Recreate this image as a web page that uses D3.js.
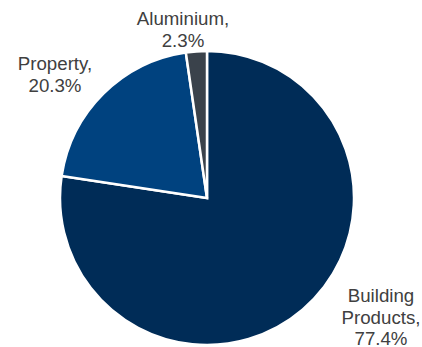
<!DOCTYPE html>
<html>
<head>
<meta charset="utf-8">
<script src="https://cdn.jsdelivr.net/npm/d3@7"></script>
<style>
  body { margin: 0; background: #fff; }
  svg { display: block; }
  text { font-family: "Liberation Sans", Arial, sans-serif; font-size: 18.7px; fill: #404040; }
</style>
</head>
<body>
<svg id="chart" width="422" height="347"></svg>
<script>
const categories = ["Building Products", "Property", "Aluminium"];
const values = [77.4, 20.3, 2.3];
const colors = ["#002c57", "#00427f", "#3a424b"];

const width = 422, height = 347;
const cx = 207, cy = 198, radius = 147;

// label position relative to pie centre: [x of centre line, first baseline]
const labelPos = [[174, 104], [-152, -128], [-24, -173]];
const labelLines = [["Building", "Products,"], ["Property,"], ["Aluminium,"]];
const lineHeight = 21.5;

const svg = d3.select("#chart");
const g = svg.append("g").attr("transform", `translate(${cx},${cy})`);

const pie = d3.pie().sort(null).value(d => d);
const arcs = pie(values);
const arc = d3.arc().innerRadius(0).outerRadius(radius);

g.selectAll("path")
  .data(arcs)
  .enter()
  .append("path")
  .attr("d", arc)
  .style("fill", (d, i) => colors[i])
  .style("stroke", "#fff")
  .style("stroke-width", 2.5)
  .style("stroke-linejoin", "miter");

arcs.forEach(function(d, i) {
  const lines = labelLines[i].concat([values[i].toFixed(1) + "%"]);
  const t = g.append("text").attr("text-anchor", "middle");
  lines.forEach(function(s, j) {
    t.append("tspan")
      .attr("x", labelPos[i][0])
      .attr("y", labelPos[i][1] + j * lineHeight)
      .text(s);
  });
});
</script>
</body>
</html>
